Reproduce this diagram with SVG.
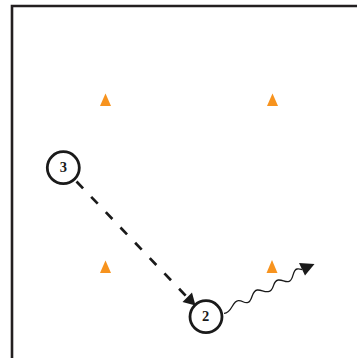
<svg xmlns="http://www.w3.org/2000/svg" width="357" height="358" viewBox="0 0 357 358">
<style>
.cone{fill:#f7931e}
.node{fill:#fff;stroke:#1a1a1a;stroke-width:2.8}
.lbl{font-family:"Liberation Serif",serif;font-size:14.5px;font-weight:bold;fill:#1a1a1a;text-anchor:middle}
.head{fill:#1a1a1a}
</style>
<rect width="357" height="358" fill="#fff"/>
<path d="M12 358V6H357" fill="none" stroke="#231f20" stroke-width="2.6"/>
<g id="cones">
<polygon class="cone" points="105.5,93.5 100,106 111,106"/>
<polygon class="cone" points="272.5,93.5 267,106 278,106"/>
<polygon class="cone" points="105.5,260.5 100,273 111,273"/>
<polygon class="cone" points="272,260 266.5,273 277.5,273"/>
</g>
<g id="connectors">
<path d="M76.5 181.5L186.7 296.7" fill="none" stroke="#1a1a1a" stroke-width="2.7" stroke-dasharray="9.5 11.7"/>
<polygon class="head" points="182.5,302 192,292.5 195.5,305.5"/>
<path d="M224 313.3C232 313.5 232 301 238.3 300.7C243 300.5 243 303 247.3 302.7C253 302 251 290.5 257.3 290C262 289.7 263 292 268.3 291.7C275 291 272 280.5 278.3 280C283 279.7 284 282 288.3 281.7C294 281 292 270 297 269C299 268.6 300 269 302 269.5" fill="none" stroke="#1a1a1a" stroke-width="1.3"/>
<polygon class="head" points="299,263 314.5,264 305,275.5"/>
</g>
<g id="node-3">
<circle class="node" cx="63.3" cy="167.7" r="16"/>
<text class="lbl" x="63.3" y="172">3</text>
</g>
<g id="node-2">
<circle class="node" cx="206" cy="316.7" r="16"/>
<text class="lbl" x="205.5" y="321">2</text>
</g>
</svg>
